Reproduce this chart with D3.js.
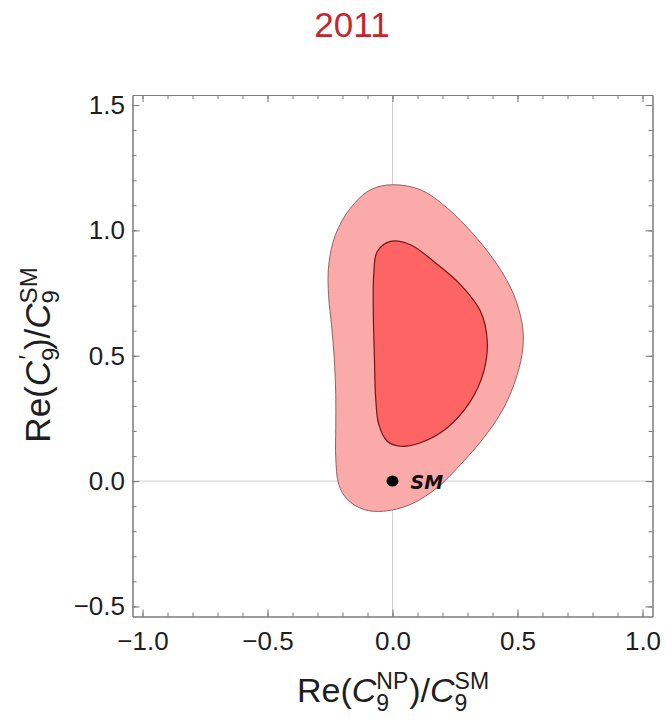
<!DOCTYPE html>
<html>
<head>
<meta charset="utf-8">
<script src="https://cdn.jsdelivr.net/npm/d3@7"></script>
<style>
  body { margin: 0; background: #fff; }
  text { font-family: "Liberation Sans", Arial, sans-serif; }
</style>
</head>
<body>
<svg id="chart" width="666" height="721"></svg>
<script>
// ---- data ----
const title = "2011";
const xMajorTicks = [-1.0, -0.5, 0.0, 0.5, 1.0];
const yMajorTicks = [-0.5, 0.0, 0.5, 1.0, 1.5];

// outer (2 sigma) allowed region, clockwise from the top
const outerX = [-0.001, 0.112, 0.219, 0.325, 0.419, 0.485, 0.519, 0.522, 0.499, 0.445, 0.365, 0.272, 0.179, 0.072, -0.035, -0.115, -0.181, -0.215, -0.227, -0.227, -0.227, -0.233, -0.244, -0.256, -0.255, -0.228, -0.168, -0.088];
const outerY = [1.182, 1.162, 1.089, 0.983, 0.863, 0.744, 0.624, 0.535, 0.425, 0.292, 0.173, 0.066, -0.026, -0.093, -0.120, -0.113, -0.073, -0.013, 0.093, 0.213, 0.345, 0.490, 0.624, 0.744, 0.863, 0.983, 1.089, 1.162];

// inner (1 sigma) allowed region, clockwise from the top
const innerX = [-0.008, 0.072, 0.165, 0.272, 0.352, 0.379, 0.365, 0.312, 0.219, 0.112, 0.032, -0.021, -0.055, -0.068, -0.072, -0.077, -0.075, -0.061];
const innerY = [0.956, 0.943, 0.876, 0.784, 0.677, 0.558, 0.438, 0.319, 0.213, 0.153, 0.139, 0.159, 0.226, 0.345, 0.478, 0.691, 0.824, 0.916];

const smPoint = [0.0, 0.0];
const smLabel = "SM";

// ---- layout ----
const svg = d3.select("#chart");
const plotLeft = 132.5, plotRight = 652.5, plotTop = 95, plotBottom = 616.5;

const x = d3.scaleLinear().domain([-1.04, 1.04]).range([plotLeft, plotRight]);
const y = d3.scaleLinear().domain([-0.54, 1.54]).range([plotBottom, plotTop]);

const frameColor = "#7a7a7a";
const textColor = "#1e1e1e";

// title
svg.append("text")
  .attr("x", 352).attr("y", 37)
  .attr("text-anchor", "middle")
  .attr("font-size", 35)
  .attr("fill", "#c3262c")
  .text(title);

// zero grid lines
const grid = svg.append("g").attr("stroke", "#cfcfcf").attr("stroke-width", 1);
grid.append("line").attr("x1", x(0)).attr("x2", x(0)).attr("y1", plotTop).attr("y2", plotBottom);
grid.append("line").attr("x1", plotLeft).attr("x2", plotRight).attr("y1", y(0)).attr("y2", y(0));

// contour regions
const line = d3.line()
  .x(d => x(d[0])).y(d => y(d[1]))
  .curve(d3.curveCatmullRomClosed.alpha(0.5));

svg.append("path")
  .datum(d3.zip(outerX, outerY))
  .attr("d", line)
  .attr("fill", "#fbaaaa")
  .attr("stroke", "#8a5454")
  .attr("stroke-width", 0.9);

svg.append("path")
  .datum(d3.zip(innerX, innerY))
  .attr("d", line)
  .attr("fill", "#ff6464")
  .attr("stroke", "#6e1616")
  .attr("stroke-width", 1.2);

// Standard Model point
svg.append("ellipse")
  .attr("cx", x(smPoint[0])).attr("cy", y(smPoint[1]))
  .attr("rx", 6).attr("ry", 5.5)
  .attr("fill", "#000");
svg.append("text")
  .attr("x", x(smPoint[0]) + 18).attr("y", y(smPoint[1]) + 7.5)
  .attr("font-size", 19)
  .attr("font-weight", "bold")
  .attr("font-style", "italic")
  .style("font-family", "'Comic Sans MS', 'DejaVu Sans', sans-serif")
  .attr("fill", "#111")
  .text(smLabel);

// frame with inward ticks on all sides
function styleAxis(g) {
  g.select(".domain").attr("stroke", frameColor);
  g.selectAll(".tick line").attr("stroke", frameColor);
  g.selectAll("text").attr("fill", textColor).attr("font-size", 26)
    .style("font-family", "'Liberation Sans', Arial, sans-serif");
}

const xMinor = x.ticks(20), yMinor = y.ticks(20);

svg.append("g").attr("transform", `translate(0,${plotBottom})`)
  .call(d3.axisBottom(x).tickValues(xMinor).tickSize(-4).tickSizeOuter(0).tickFormat(""))
  .call(styleAxis);
svg.append("g").attr("transform", `translate(0,${plotBottom})`)
  .call(d3.axisBottom(x).tickValues(xMajorTicks).tickSize(-7).tickSizeOuter(0)
    .tickPadding(15).tickFormat(d3.format(".1f")))
  .call(styleAxis);

svg.append("g").attr("transform", `translate(0,${plotTop})`)
  .call(d3.axisTop(x).tickValues(xMinor).tickSize(-4).tickSizeOuter(0).tickFormat(""))
  .call(styleAxis);
svg.append("g").attr("transform", `translate(0,${plotTop})`)
  .call(d3.axisTop(x).tickValues(xMajorTicks).tickSize(-7).tickSizeOuter(0).tickFormat(""))
  .call(styleAxis);

svg.append("g").attr("transform", `translate(${plotLeft},0)`)
  .call(d3.axisLeft(y).tickValues(yMinor).tickSize(-4).tickSizeOuter(0).tickFormat(""))
  .call(styleAxis);
svg.append("g").attr("transform", `translate(${plotLeft},0)`)
  .call(d3.axisLeft(y).tickValues(yMajorTicks).tickSize(-7).tickSizeOuter(0)
    .tickPadding(7.5).tickFormat(d3.format(".1f")))
  .call(styleAxis);

svg.append("g").attr("transform", `translate(${plotRight},0)`)
  .call(d3.axisRight(y).tickValues(yMinor).tickSize(-4).tickSizeOuter(0).tickFormat(""))
  .call(styleAxis);
svg.append("g").attr("transform", `translate(${plotRight},0)`)
  .call(d3.axisRight(y).tickValues(yMajorTicks).tickSize(-7).tickSizeOuter(0).tickFormat(""))
  .call(styleAxis);

// axis titles
function addLabel(g, size, parts) {
  const t = g.append("text").attr("fill", textColor).attr("font-size", size).attr("text-anchor", "middle");
  parts.forEach(p => {
    const s = t.append("tspan").text(p.t);
    if (p.italic) s.attr("font-style", "italic");
    if (p.size) s.attr("font-size", p.size);
    if (p.dx) s.attr("dx", p.dx);
    if (p.dy) s.attr("dy", p.dy);
  });
  return t;
}

const xLab = svg.append("g").attr("transform", "translate(393,702)");
addLabel(xLab, 34, [
  { t: "Re(" },
  { t: "C", italic: true },
  { t: "9", size: 23, dy: 9 },
  { t: "NP", size: 23, dx: -12.8, dy: -22 },
  { t: ")/", dx: 1, dy: 13 },
  { t: "C", italic: true },
  { t: "9", size: 23, dy: 9 },
  { t: "SM", size: 23, dx: -12.8, dy: -22 }
]);

const yLab = svg.append("g").attr("transform", "translate(50,355) rotate(-90)");
addLabel(yLab, 35, [
  { t: "Re(" },
  { t: "C", italic: true },
  { t: "9", size: 24, dy: 9 },
  { t: "\u2032", size: 24, dx: -12, dy: -23 },
  { t: ")/", dx: 5, dy: 14 },
  { t: "C", italic: true },
  { t: "9", size: 24, dy: 9 },
  { t: "SM", size: 24, dx: -13.3, dy: -22 }
]);
</script>
</body>
</html>
